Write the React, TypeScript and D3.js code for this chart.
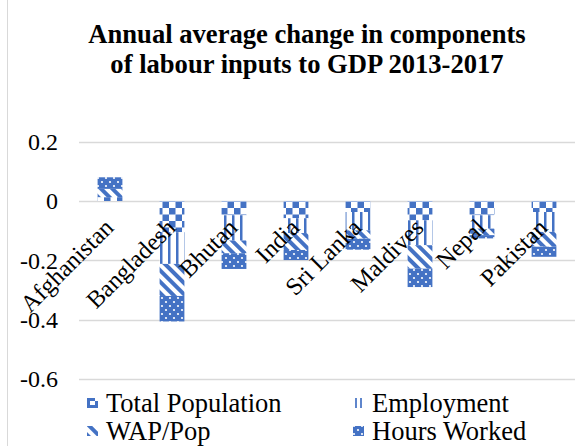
import React from 'react';
import * as d3 from 'd3';

const categories = ['Afghanistan', 'Bangladesh', 'Bhutan', 'India', 'Sri Lanka', 'Maldives', 'Nepal', 'Pakistan'];
const seriesNames = ['Total Population', 'Employment', 'WAP/Pop', 'Hours Worked'];
const totalPopulation = [0.013, -0.105, -0.048, -0.058, -0.037, -0.065, -0.048, -0.037];
const employment = [0, -0.107, -0.085, -0.05, -0.062, -0.084, -0.045, -0.067];
const wapPop = [0.028, -0.108, -0.043, -0.057, -0.028, -0.079, -0.022, -0.05];
const hoursWorked = [0.039, -0.086, -0.053, -0.034, -0.037, -0.062, -0.011, -0.034];
const yTicks = [0.2, 0, -0.2, -0.4, -0.6];
const yTickLabels = ['0.2', '0', '-0.2', '-0.4', '-0.6'];
const titleLines = ['Annual average change in components', 'of labour inputs to GDP 2013-2017'];

const BLUE = '#4472C4';
const FONT = '"Liberation Serif", serif';
const patternIds = ['pTotal', 'pEmp', 'pWap', 'pHours'];

function Swatch({ k, x, y }: { k: number; x: number; y: number }) {
  if (k === 0) {
    return (
      <g>
        <rect x={x} y={y} width={11} height={10} fill={BLUE} />
        <rect x={x + 3} y={y + 3} width={5} height={4} fill="#fff" />
        <rect x={x + 8} y={y} width={3} height={3} fill="#fff" />
      </g>
    );
  }
  if (k === 1) {
    return (
      <g fill={BLUE} opacity={0.85}>
        <rect x={x + 2} y={y} width={2} height={10} />
        <rect x={x + 7} y={y} width={2} height={10} />
      </g>
    );
  }
  return <rect x={x} y={y} width={11} height={10} fill={`url(#${patternIds[k]})`} />;
}

export default function App() {
  const W = 588, H = 446;
  const x = d3.scaleBand<string>().domain(categories).range([79, 575]).paddingInner(0.6).paddingOuter(0.3);
  const y = d3.scaleLinear().domain([-0.6, 0.2]).range([379, 141.7]);
  const seriesArrays = [totalPopulation, employment, wapPop, hoursWorked];
  const rows = categories.map((c, i) => {
    const r: any = { cat: c };
    seriesNames.forEach((s, k) => (r[s] = seriesArrays[k][i]));
    return r;
  });
  const stacked = d3.stack<any>().keys(seriesNames).offset(d3.stackOffsetDiverging)(rows);
  const bw = 62 * 0.4;
  const cx = (c: string) => (x(c) as number) + x.bandwidth() / 2;

  return (
    <svg width={W} height={H} style={{ position: 'absolute', left: 0, top: 0, background: '#fff', fontFamily: FONT }}>
      <defs>
        <pattern id="pTotal" patternUnits="userSpaceOnUse" width={13} height={13}>
          <rect width={13} height={13} fill="#fff" />
          <rect x={0} y={0} width={6.5} height={6.5} fill={BLUE} />
          <rect x={6.5} y={6.5} width={6.5} height={6.5} fill={BLUE} />
        </pattern>
        <pattern id="pEmp" patternUnits="userSpaceOnUse" width={8} height={8}>
          <rect width={8} height={8} fill="#fff" />
          <rect x={0} y={0} width={2.5} height={8} fill={BLUE} />
        </pattern>
        <pattern id="pWap" patternUnits="userSpaceOnUse" width={8} height={8} patternTransform="rotate(-45)">
          <rect width={8} height={8} fill="#fff" />
          <rect x={0} y={0} width={4} height={8} fill={BLUE} />
        </pattern>
        <pattern id="pHours" patternUnits="userSpaceOnUse" width={8} height={8}>
          <rect width={8} height={8} fill={BLUE} />
          <circle cx={2} cy={2} r={1.1} fill="#fff" />
          <circle cx={6} cy={6} r={1.1} fill="#fff" />
        </pattern>
      </defs>
      <rect width={W} height={H} fill="#fff" />
      <line x1={7.5} x2={7.5} y1={0} y2={H} stroke="#D9D9D9" />

      {titleLines.map((t, i) => (
        <text key={t} x={307} y={43 + i * 30} textAnchor="middle" fontWeight="bold" fontSize={26.6}>{t}</text>
      ))}

      {yTicks.map((t, i) => (
        <g key={t}>
          <line x1={79} x2={575} y1={Math.round(y(t)) + 0.5} y2={Math.round(y(t)) + 0.5} stroke="#D9D9D9" strokeWidth={1.5} />
          <text x={58} y={y(t)} dy="0.35em" textAnchor="end" fontSize={24}>{yTickLabels[i]}</text>
        </g>
      ))}

      {stacked.map((s, k) => (
        <g key={s.key} fill={`url(#${patternIds[k]})`}>
          {s.map((d, i) => {
            const y0 = y(Math.max(d[0], d[1]));
            const y1 = y(Math.min(d[0], d[1]));
            return <rect key={i} x={cx(categories[i]) - bw / 2} y={y0} width={bw} height={Math.max(0, y1 - y0)} />;
          })}
        </g>
      ))}

      {categories.map((c) => (
        <text key={c} transform={`translate(${cx(c) + 5},${229}) rotate(-45)`} textAnchor="end" fontSize={24.5}>{c}</text>
      ))}

      {seriesNames.map((s, k) => {
        const col = k % 2, row = Math.floor(k / 2);
        const lx = col === 0 ? 87 : 353;
        const ly = row === 0 ? 403 : 431;
        return (
          <g key={s}>
            <Swatch k={k} x={lx} y={ly - 5} />
            <text x={lx + 19} y={ly} dy="0.35em" fontSize={26.5}>{s}</text>
          </g>
        );
      })}
    </svg>
  );
}
